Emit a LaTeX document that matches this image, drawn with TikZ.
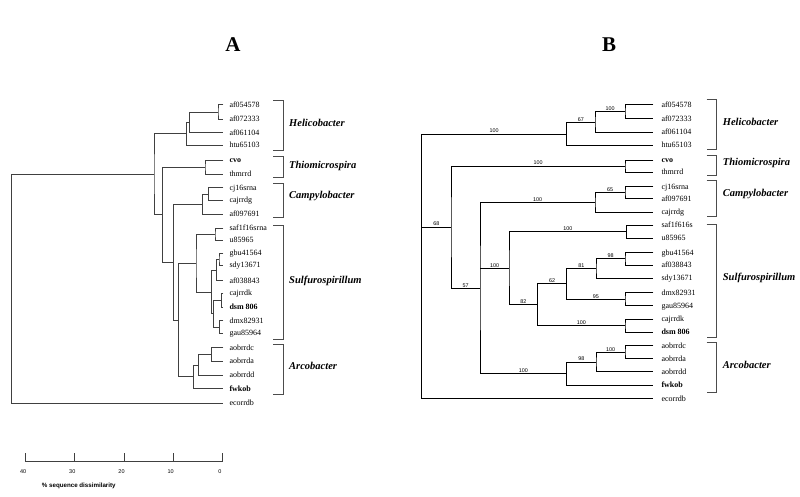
\documentclass[tikz,border=0pt]{standalone}
\usepackage{fontspec}
\setmainfont{Liberation Serif}
\newfontfamily\numfont{Liberation Sans}
\usepackage{tikz}

\begin{document}
\begin{tikzpicture}[x=1pt,y=-1pt,
    leaf/.style={anchor=west, inner xsep=6pt, inner ysep=0pt, text height=5.4pt, text depth=0.6pt, font=\fontsize{8}{9}\selectfont},
    leafB/.style={leaf, inner xsep=8pt},
    genus/.style={anchor=west, inner sep=0pt, font=\fontsize{10.5}{12}\selectfont\bfseries\itshape},
    title/.style={font=\fontsize{21}{24}\selectfont\bfseries},
    boot/.style={above, inner sep=0.8pt, font=\numfont\fontsize{5.4}{6}\selectfont},
    scl/.style={inner sep=0pt, font=\numfont\fontsize{5.5}{6}\selectfont},
    branchA/.style={draw=black!75, line width=0.7pt},
    branchB/.style={draw=black, line width=1pt},
    bracket/.style={draw=black!70, line width=0.8pt}
]
\useasboundingbox (0,0) rectangle (800,496);

% panel titles
\node[title] (titleA) at (233,45) {A};
\node[title] (titleB) at (609,45) {B};

%% ---------- tree A ----------
\foreach \n/\y/\t in {a1/104.7/af054578, a2/119/af072333, a3/132.7/af061104, a4/145.3/htu65103,
    a5/160/\textbf{cvo}, a6/174/thmrrd, a7/187.7/cj16srna, a8/200/cajrrdg, a9/214.3/af097691,
    a10/228.3/saf1f16srna, a11/240/u85965, a12/253.5/gbu41564, a13/265.2/sdy13671,
    a14/280.7/af038843, a15/293.3/cajrrdk, a16/307.3/\textbf{dsm 806}, a17/320.7/dmx82931,
    a18/333.3/gau85964, a19/347.7/aobrrdc, a20/361.3/aobrrda, a21/375.3/aobrrdd,
    a22/388.7/\textbf{fwkob}, a23/403.3/ecorrdb}
  \node[leaf] (A-\n) at (223.3,\y) {\t};

\foreach \n/\x/\y in {hA1/218/111.9, hA2/189.3/122.3, hA3/186.7/133.8, tA/205/167,
    cA1/208.3/193.9, cA2/202.7/204.1, sA1/215/234.2, sA2/219/259.4, sA3/216.5/270,
    sA4/221.5/300.3, sA5/219.3/327, sA6/213.5/313.7, sA7/211.7/291.9, sA8/196/263.5,
    rA1/211.7/354.5, rA2/198.3/364.9, rA3/193.3/376.8, nA1/178.3/320.2, nA2/173.3/262.1,
    nA3/162.7/214.6, nA4/154/174.2, rootA/11.3/288.8}
  \coordinate (\n) at (\x,\y);

\foreach \pa/\ca/\cb in {hA1/A-a1.west/A-a2.west, hA2/hA1/A-a3.west, hA3/hA2/A-a4.west,
    tA/A-a5.west/A-a6.west, cA1/A-a7.west/A-a8.west, cA2/cA1/A-a9.west,
    sA1/A-a10.west/A-a11.west, sA2/A-a12.west/A-a13.west, sA3/sA2/A-a14.west,
    sA4/A-a15.west/A-a16.west, sA5/A-a17.west/A-a18.west, sA6/sA4/sA5, sA7/sA3/sA6,
    sA8/sA1/sA7, rA1/A-a19.west/A-a20.west, rA2/rA1/A-a21.west, rA3/rA2/A-a22.west,
    nA1/sA8/rA3, nA2/cA2/nA1, nA3/tA/nA2, nA4/hA3/nA3, rootA/nA4/A-a23.west}
  \draw[branchA] (\ca) -| (\pa) |- (\cb);

% genus brackets A
\foreach \t/\b in {100.7/150.7, 156.7/177.3, 183.3/217.7, 225/339.3, 344.3/394}
  \draw[bracket] (273.3,\t) -- (283.3,\t) -- (283.3,\b) -- (273.3,\b);
\node[genus] (gA1) at (289,123.3) {Helicobacter};
\node[genus] (gA2) at (289,166) {Thiomicrospira};
\node[genus] (gA3) at (289,196) {Campylobacter};
\node[genus] (gA4) at (289,280.7) {Sulfurospirillum};
\node[genus] (gA5) at (289,366) {Arcobacter};

% scale bar
\draw[branchA] (25.7,461.7) -- (222.3,461.7);
\foreach \x/\v in {25.7/40, 74.8/30, 124/20, 173.1/10, 222.3/0} {
  \draw[branchA] (\x,461.7) -- (\x,453.3);
  \node[scl] (sc\v) at (\x-2.5,471.7) {\v};
}
\node[scl, anchor=west, font=\numfont\bfseries\fontsize{6.2}{7}\selectfont] (scaletxt) at (41.7,486) {\% sequence dissimilarity};

%% ---------- tree B ----------
\foreach \n/\y/\t in {b1/104.7/af054578, b2/118.7/af072333, b3/132/af061104, b4/145.3/htu65103,
    b5/160/\textbf{cvo}, b6/172/thmrrd, b7/186.7/cj16srna, b8/198.7/af097691, b9/212/cajrrdg,
    b10/225.3/saf1f616s, b11/238.3/u85965, b12/252.7/gbu41564, b13/265/af038843,
    b14/278.3/sdy13671, b15/292.7/dmx82931, b16/305.7/gau85964, b17/319/cajrrdk,
    b18/332/\textbf{dsm 806}, b19/345.7/aobrrdc, b20/358.7/aobrrda, b21/371.7/aobrrdd,
    b22/385.3/\textbf{fwkob}, b23/398.7/ecorrdb}
  \node[leafB] (B-\n) at (653.3,\y) {\t};

\foreach \n/\x/\y in {B1/625/111.7, B2/595/122.3, B3/566.7/134, BT/625/166,
    BC1/625/192.7, BC2/595/202.4, BS1/626.7/231.8, BS2/625/258.9, BS3/596/268.6,
    BS4/625/299.2, BS5/566.7/283.9, BS6/625/325.5, BS7/537.7/304.7, BS8/509/268.3,
    BR1/625/352.2, BR2/596/362, BR3/566.7/373.7, BN1/480/288.1, BN2/451/227, rootB/421.7/227}
  \coordinate (\n) at (\x,\y);

\foreach \pa/\ca/\cb in {B1/B-b1.west/B-b2.west, B2/B1/B-b3.west, B3/B2/B-b4.west,
    BT/B-b5.west/B-b6.west, BC1/B-b7.west/B-b8.west, BC2/BC1/B-b9.west,
    BS1/B-b10.west/B-b11.west, BS2/B-b12.west/B-b13.west, BS3/BS2/B-b14.west,
    BS4/B-b15.west/B-b16.west, BS5/BS3/BS4, BS6/B-b17.west/B-b18.west, BS7/BS5/BS6,
    BS8/BS1/BS7, BR1/B-b19.west/B-b20.west, BR2/BR1/B-b21.west, BR3/BR2/B-b22.west,
    BN1/BC2/BR3, BN2/BT/BN1, rootB/B3/B-b23.west}
  \draw[branchB] (\ca) -| (\pa) |- (\cb);
\draw[branchB] (BN1 |- BS8) -- (BS8);
\draw[branchB] (rootB) -- (BN2);

% bootstrap values
\foreach \c/\p/\v in {B1/B2/100, B2/B3/67, B3/rootB/100, BT/BN2/100, BC1/BC2/65,
    BC2/BN1/100, BS1/BS8/100, BS2/BS3/98, BS3/BS5/81, BS4/BS5/95, BS5/BS7/62,
    BS6/BS7/100, BS7/BS8/82, BS8/BN1/100, BR1/BR2/100, BR2/BR3/98, BR3/BN1/100,
    BN1/BN2/57, BN2/rootB/68}
  \path (\c) -- node[boot] (bs-\c) {\v} (\c -| \p);

% genus brackets B
\foreach \t/\b in {99.3/149.3, 155/175, 180.7/216.7, 224/337.3, 342.7/392.7}
  \draw[bracket] (706.7,\t) -- (716.7,\t) -- (716.7,\b) -- (706.7,\b);
\node[genus] (gB1) at (722.7,122.3) {Helicobacter};
\node[genus] (gB2) at (722.7,163.3) {Thiomicrospira};
\node[genus] (gB3) at (722.7,194) {Campylobacter};
\node[genus] (gB4) at (722.7,278.3) {Sulfurospirillum};
\node[genus] (gB5) at (722.7,365) {Arcobacter};
\end{tikzpicture}
\end{document}
